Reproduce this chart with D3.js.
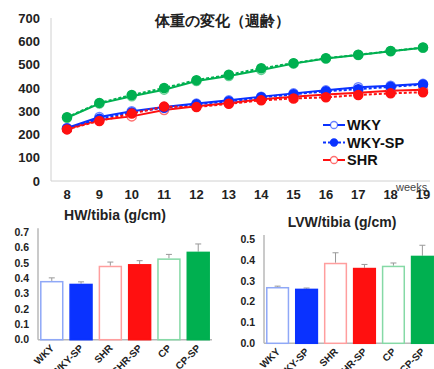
<!DOCTYPE html>
<html><head><meta charset="utf-8">
<script src="https://cdn.jsdelivr.net/npm/d3@7"></script>
<style>
html,body{margin:0;padding:0;background:#fff;}
svg{display:block;}
text{font-family:"Liberation Sans",Arial,sans-serif;}
</style></head>
<body>
<svg id="c" width="434" height="369"></svg>
<script>
// ---------- data ----------
const weeks = [8,9,10,11,12,13,14,15,16,17,18,19];
const wky    = [228,275,300,318,333,347,363,377,390,403,410,418];
const wkySP  = [226,268,295,315,330,343,360,373,386,395,405,415];
const shr    = [224,262,278,305,322,336,352,362,372,380,388,393];
const shrSP  = [222,258,290,320,318,332,347,355,360,370,377,382];
const cp     = [272,333,365,393,430,452,478,505,527,542,558,573];
const cpSP   = [274,336,370,400,434,457,485,507,528,543,559,574];
const yTicksLine = [0,100,200,300,400,500,600,700];

const groups = ["WKY","WKY-SP","SHR","SHR-SP","CP","CP-SP"];
const hwMean = [0.383,0.365,0.482,0.493,0.530,0.574];
const hwErr  = [0.020,0.012,0.024,0.022,0.026,0.050];
const lvwMean = [0.270,0.262,0.386,0.362,0.372,0.420];
const lvwErr  = [0.004,0.003,0.048,0.016,0.013,0.050];
const hwTicks = [0,0.1,0.2,0.3,0.4,0.5,0.6,0.7];
const lvwTicks = [0,0.1,0.2,0.3,0.4,0.5];

const BLUE="#0a32ff", RED="#ff1010", GREEN="#00b050";
const BLUE_L="#8fa8f7", RED_L="#ff9e9e", GREEN_L="#86d9a6";

const svg = d3.select("#c");

// ---------- line chart ----------
const x = d3.scaleLinear().domain([8,19]).range([67,423]);
const y = d3.scaleLinear().domain([0,700]).range([181,18.3]);

svg.append("line").attr("x1",51).attr("x2",51).attr("y1",18).attr("y2",181)
  .attr("stroke","#d0d0d0").attr("stroke-width",1);
svg.append("line").attr("x1",51).attr("x2",430).attr("y1",181).attr("y2",181)
  .attr("stroke","#d0d0d0").attr("stroke-width",1);

svg.append("g").selectAll("text").data(yTicksLine).join("text")
  .attr("x",40).attr("y",d=>y(d)).attr("dy","0.36em")
  .attr("text-anchor","end").attr("font-size",13).attr("font-weight","bold")
  .attr("fill","#222").text(d=>d);

svg.append("g").selectAll("text").data(weeks).join("text")
  .attr("x",d=>x(d)).attr("y",199).attr("text-anchor","middle")
  .attr("font-size",13).attr("font-weight","bold").attr("fill","#222").text(d=>d);

svg.append("text").attr("x",396).attr("y",191).attr("font-size",11)
  .attr("fill","#444").text("weeks");

svg.append("text").attr("x",222).attr("y",26).attr("text-anchor","middle")
  .attr("font-family","'Noto Sans CJK JP',sans-serif").attr("font-size",15)
  .attr("font-weight","bold").attr("fill","#222").text("体重の変化（週齢）");

const series = [
  {v:wky, c:BLUE, dash:false},
  {v:shr, c:RED, dash:false},
  {v:cp, c:GREEN, dash:false},
  {v:wkySP, c:BLUE, dash:true},
  {v:shrSP, c:RED, dash:true},
  {v:cpSP, c:GREEN, dash:true}
];
const line = d3.line().x((d,i)=>x(weeks[i])).y(d=>y(d));
series.forEach(s=>{
  const g = svg.append("g");
  g.append("path").attr("d",line(s.v)).attr("fill","none").attr("stroke",s.c)
    .attr("stroke-width",2).attr("stroke-dasharray",s.dash?"3,2":null);
  g.selectAll("circle").data(s.v).join("circle")
    .attr("cx",(d,i)=>x(weeks[i])).attr("cy",d=>y(d)).attr("r",4.5)
    .attr("fill",s.dash?s.c:"#fff").attr("stroke",s.c).attr("stroke-opacity",s.dash?1:0.6)
    .attr("stroke-width",1.5);
});

// legend
const leg = [{t:"WKY",c:BLUE,dash:false},{t:"WKY-SP",c:BLUE,dash:true},{t:"SHR",c:RED,dash:false}];
leg.forEach((l,i)=>{
  const yy = 125 + i*17.5;
  svg.append("line").attr("x1",323).attr("x2",345).attr("y1",yy).attr("y2",yy)
    .attr("stroke",l.c).attr("stroke-width",2).attr("stroke-dasharray",l.dash?"3,2":null);
  svg.append("circle").attr("cx",334).attr("cy",yy).attr("r",3.5)
    .attr("fill",l.dash?l.c:"#fff").attr("stroke",l.c).attr("stroke-opacity",l.dash?1:0.6).attr("stroke-width",1.3);
  svg.append("text").attr("x",347).attr("y",yy).attr("dy","0.36em")
    .attr("font-size",14.5).attr("font-weight","bold").attr("fill","#111").text(l.t);
});

// ---------- bar charts ----------
const fills = ["#fff",BLUE,"#fff",RED,"#fff",GREEN];
const strokes = [BLUE_L,BLUE,RED_L,RED,GREEN_L,GREEN];

function barChart(o){
  const xb = d3.scaleBand().domain(groups).range([o.x0,o.x1]).paddingInner(0.2).paddingOuter(0.07);
  const yb = d3.scaleLinear().domain([0,o.max]).range([o.yBottom,o.yTop]);
  const g = svg.append("g");
  g.append("text").attr("x",o.tx).attr("y",o.ty).attr("text-anchor","middle")
    .attr("font-size",14).attr("font-weight","bold").attr("fill","#222").text(o.title);
  g.append("line").attr("x1",o.x0).attr("x2",o.x0).attr("y1",o.yTop-4).attr("y2",o.yBottom)
    .attr("stroke","#b8b8b8").attr("stroke-width",1.5);
  g.append("line").attr("x1",o.x0).attr("x2",o.x1).attr("y1",o.yBottom).attr("y2",o.yBottom)
    .attr("stroke","#b8b8b8").attr("stroke-width",1.5);
  g.selectAll(".yt").data(o.ticks).join("text")
    .attr("x",o.x0-9).attr("y",d=>yb(d)).attr("dy","0.36em").attr("text-anchor","end")
    .attr("font-size",10.5).attr("font-weight","bold").attr("fill","#222").text(d=>d.toFixed(1));
  // error bars
  g.selectAll(".eb").data(o.mean).join("line")
    .attr("x1",(d,i)=>xb(groups[i])+xb.bandwidth()/2).attr("x2",(d,i)=>xb(groups[i])+xb.bandwidth()/2)
    .attr("y1",d=>yb(d)).attr("y2",(d,i)=>yb(d+o.err[i])).attr("stroke","#999").attr("stroke-width",1);
  g.selectAll(".ec").data(o.mean).join("line")
    .attr("x1",(d,i)=>xb(groups[i])+xb.bandwidth()/2-3).attr("x2",(d,i)=>xb(groups[i])+xb.bandwidth()/2+3)
    .attr("y1",(d,i)=>yb(d+o.err[i])).attr("y2",(d,i)=>yb(d+o.err[i])).attr("stroke","#999").attr("stroke-width",1);
  g.selectAll("rect").data(o.mean).join("rect")
    .attr("x",(d,i)=>xb(groups[i])+0.75).attr("width",xb.bandwidth()-1.5)
    .attr("y",d=>yb(d)+0.75).attr("height",d=>o.yBottom-yb(d)-0.75)
    .attr("fill",(d,i)=>fills[i]).attr("stroke",(d,i)=>strokes[i]).attr("stroke-width",1.5);
  g.selectAll(".xl").data(groups).join("text")
    .attr("transform",d=>`translate(${xb(d)+xb.bandwidth()/2+3},${o.yBottom+9}) rotate(-45)`)
    .attr("text-anchor","end").attr("font-size",10).attr("font-weight","bold").attr("fill","#222")
    .text(d=>d);
}

barChart({x0:38,x1:212,yTop:232.3,yBottom:339.7,max:0.7,ticks:hwTicks,mean:hwMean,err:hwErr,
  title:"HW/tibia (g/cm)",tx:115,ty:220});
barChart({x0:264,x1:436,yTop:239,yBottom:343.3,max:0.5,ticks:lvwTicks,mean:lvwMean,err:lvwErr,
  title:"LVW/tibia (g/cm)",tx:342,ty:227});
</script>
</body></html>
